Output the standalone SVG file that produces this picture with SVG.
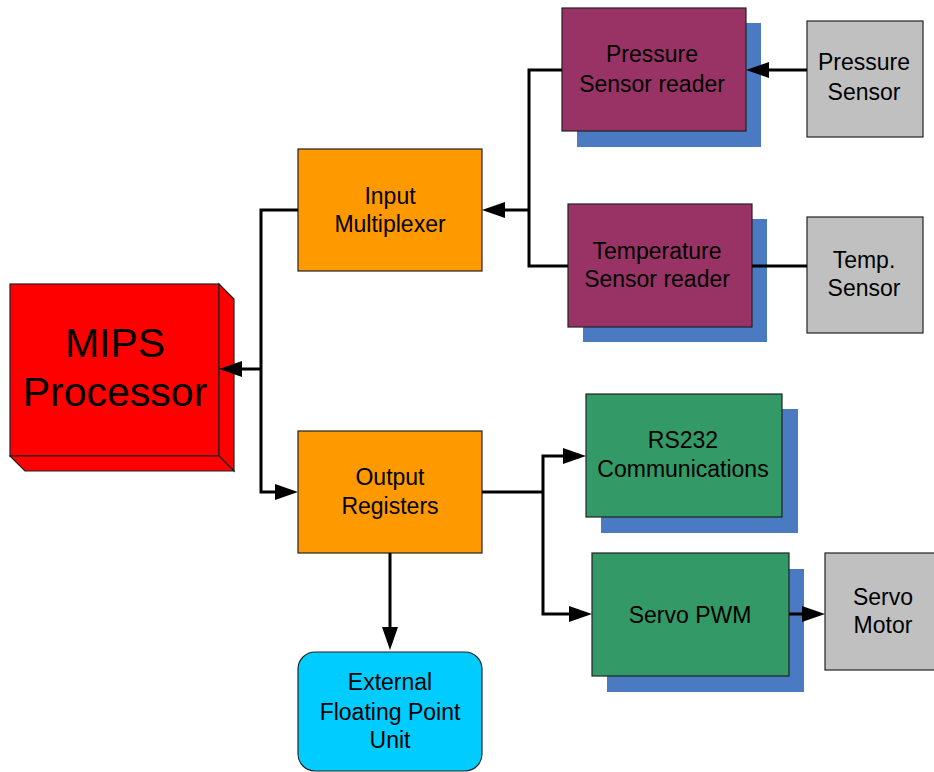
<svg xmlns="http://www.w3.org/2000/svg" width="934" height="772" viewBox="0 0 934 772">
<style>
.box{stroke:#222;stroke-width:1.2}
.sh{fill:#4A7AC2}
.t{font-family:"Liberation Sans",Arial,sans-serif;font-size:23px;fill:#000;text-anchor:middle}
.big{font-size:41px}
.c{fill:none;stroke:#000;stroke-width:3}
</style>
<defs>
<marker id="ah" markerUnits="userSpaceOnUse" markerWidth="23" markerHeight="16" refX="12" refY="8" orient="auto">
<path d="M0,0 L23,8 L0,16 z" fill="#000"/>
</marker>
</defs>
<rect width="934" height="772" fill="#fff"/>

<g id="mips">
<rect class="box" x="10" y="284" width="209" height="172" fill="#FF0000"/>
<polygon class="box" points="219,284 234,299 234,471 219,456" fill="#FF0000"/>
<polygon class="box" points="10,456 219,456 234,471 25,471" fill="#FF0000"/>
<text class="t big" x="115" y="357">MIPS</text>
<text class="t big" x="115" y="406">Processor</text>
</g>

<g id="input-mux">
<rect class="box" x="298" y="149" width="184" height="122" fill="#FF9900"/>
<text class="t" x="390" y="204">Input</text>
<text class="t" x="390" y="232">Multiplexer</text>
</g>

<g id="output-reg">
<rect class="box" x="298" y="431" width="184" height="122" fill="#FF9900"/>
<text class="t" x="390" y="485">Output</text>
<text class="t" x="390" y="514">Registers</text>
</g>

<g id="fpu">
<rect class="box" x="298" y="652" width="184" height="119" rx="17" fill="#00CCFF"/>
<text class="t" x="390" y="690">External</text>
<text class="t" x="390" y="720">Floating Point</text>
<text class="t" x="390" y="748">Unit</text>
</g>

<g id="pressure-reader">
<rect class="sh" x="577" y="23" width="184" height="124"/>
<rect class="box" x="562" y="8" width="184" height="123" fill="#993366"/>
<text class="t" x="652" y="62">Pressure</text>
<text class="t" x="652" y="92">Sensor reader</text>
</g>

<g id="temp-reader">
<rect class="sh" x="583" y="219" width="184" height="123"/>
<rect class="box" x="568" y="204" width="184" height="123" fill="#993366"/>
<text class="t" x="657" y="259">Temperature</text>
<text class="t" x="657" y="287">Sensor reader</text>
</g>

<g id="pressure-sensor">
<rect class="box" x="807" y="21" width="116" height="116" fill="#C0C0C0"/>
<text class="t" x="864" y="70">Pressure</text>
<text class="t" x="864" y="100">Sensor</text>
</g>

<g id="temp-sensor">
<rect class="box" x="807" y="217" width="116" height="116" fill="#C0C0C0"/>
<text class="t" x="864" y="268">Temp.</text>
<text class="t" x="864" y="296">Sensor</text>
</g>

<g id="rs232">
<rect class="sh" x="601" y="409" width="197" height="124"/>
<rect class="box" x="586" y="394" width="196" height="123" fill="#339966"/>
<text class="t" x="683" y="448">RS232</text>
<text class="t" x="683" y="477">Communications</text>
</g>

<g id="servo-pwm">
<rect class="sh" x="607" y="569" width="197" height="123"/>
<rect class="box" x="592" y="553" width="197" height="123" fill="#339966"/>
<text class="t" x="690" y="623">Servo PWM</text>
</g>

<g id="servo-motor">
<rect class="box" x="825" y="553" width="116" height="117" fill="#C0C0C0"/>
<text class="t" x="883" y="605">Servo</text>
<text class="t" x="883" y="633">Motor</text>
</g>

<g id="connectors">
<path class="c" d="M298,210 H261 V492 H287" marker-end="url(#ah)"/>
<path class="c" d="M261,369 H230" marker-end="url(#ah)"/>
<path class="c" d="M562,70 H529 V266 H568"/>
<path class="c" d="M529,210 H493" marker-end="url(#ah)"/>
<path class="c" d="M807,70 H757" marker-end="url(#ah)"/>
<path class="c" d="M752,266 H807"/>
<path class="c" d="M482,492 H543"/>
<path class="c" d="M543,492 V456 H575" marker-end="url(#ah)"/>
<path class="c" d="M543,492 V614 H581" marker-end="url(#ah)"/>
<path class="c" d="M789,614 H814" marker-end="url(#ah)"/>
<path class="c" d="M390,553 V639" marker-end="url(#ah)"/>
</g>
</svg>
